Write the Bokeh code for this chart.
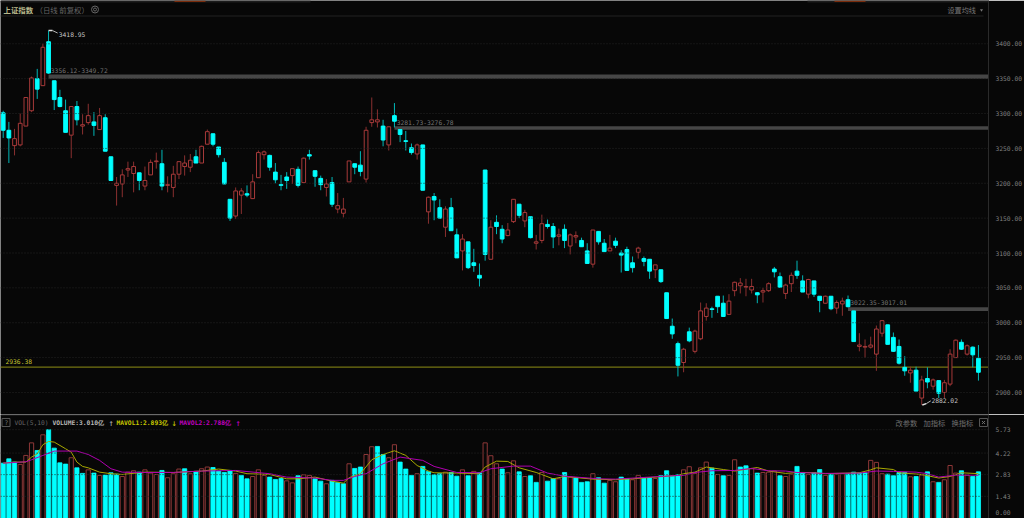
from bokeh.plotting import figure
from bokeh.layouts import column
from bokeh.models import Range1d, LinearAxis, FixedTicker, Span, NumeralTickFormatter
from bokeh.core.properties import value
from bokeh.embed import file_html
from bokeh.resources import INLINE

candle_dir = ("CCRRRRCRCC" "CCRCRRCRCC" "RRRRCRRRCR" "RRRRCRRCCC" "CRRCRRRCCC" "CRCRCCCRCR"
              "RRCCRRRCRC" "CCCRCRCCRC" "CRCCCCRCCR" "RCRCRRCCRC" "RRCCRCCRCC" "CCRCCRCCCC"
              "RCRRRCCCRR" "RRRCRRCCRR" "CCRCCRCRRC" "CRRRRRCCCC" "RCRCRCRRRC" "RCC")
body_high = [3301,3276,3264,3286,3323,3351,3350,3395,3403,3347,
             3323,3304,3310,3310,3284,3297,3288,3297,3294,3238,
             3200,3212,3221,3224,3215,3204,3230,3232,3228,3198,
             3213,3231,3229,3233,3238,3253,3274,3271,3252,3230,
             3177,3189,3189,3185,3202,3244,3245,3240,3216,3198,
             3209,3221,3220,3236,3241,3218,3207,3199,3201,3168,
             3163,3232,3228,3226,3276,3291,3291,3282,3281,3297,
             3277,3261,3251,3255,3255,3180,3181,3165,3163,3165,
             3126,3120,3116,3086,3068,3219,3137,3144,3134,3133,
             3177,3170,3158,3152,3116,3142,3141,3138,3126,3134,
             3126,3125,3118,3103,3133,3131,3114,3107,3117,3100,
             3105,3086,3107,3092,3091,3083,3076,3043,2995,2970,
             2962,2987,2988,3017,3021,3020,3038,3028,3031,3058,
             3057,3052,3052,3043,3046,3056,3077,3066,3054,3068,
             3074,3060,3062,3060,3038,3038,3038,3029,3031,3033,
             3017,2968,2966,2968,2991,3003,2997,2979,2966,2936,
             2932,2932,2918,2920,2918,2917,2914,2955,2975,2972,
             2967,2965,2949]
body_low = [3276,3265,3254,3255,3282,3304,3335,3340,3358,3320,
            3310,3273,3269,3291,3282,3287,3283,3277,3246,3204,
            3197,3199,3219,3214,3204,3196,3212,3231,3196,3197,
            3194,3213,3224,3223,3229,3229,3256,3256,3241,3199,
            3150,3153,3183,3183,3178,3208,3241,3223,3205,3197,
            3204,3211,3197,3201,3239,3210,3198,3194,3170,3163,
            3157,3202,3223,3217,3206,3287,3288,3262,3255,3289,
            3270,3260,3244,3242,3190,3159,3176,3150,3137,3132,
            3093,3103,3079,3082,3064,3098,3091,3138,3120,3125,
            3145,3154,3146,3122,3114,3118,3138,3123,3124,3118,
            3110,3123,3109,3085,3084,3116,3102,3103,3111,3097,
            3075,3079,3101,3088,3074,3076,3059,3006,2984,2939,
            2943,2974,2959,2977,3009,3019,3023,3009,3012,3046,
            3053,3051,3047,3040,3044,3046,3073,3051,3042,3056,
            3068,3044,3041,3041,3032,3028,3020,3021,3027,3023,
            2973,2966,2965,2965,2955,2985,2969,2959,2942,2931,
            2928,2902,2892,2915,2909,2899,2900,2912,2950,2962,
            2955,2954,2929]
wick_high = [3304,3288,3278,3300,3323,3353,3364,3400,3418.95,3347,
             3334,3320,3310,3318,3299,3314,3302,3308,3299,3238,
             3209,3220,3231,3231,3215,3224,3234,3244,3248,3210,
             3225,3231,3240,3242,3248,3254,3277,3271,3252,3236,
             3177,3194,3193,3197,3213,3247,3247,3241,3229,3212,
             3216,3221,3224,3237,3248,3218,3211,3206,3209,3186,
             3179,3232,3228,3246,3281,3323,3306,3291,3281,3315,
             3277,3275,3257,3257,3255,3181,3186,3177,3167,3179,
             3135,3127,3116,3106,3085,3219,3147,3154,3140,3143,
             3177,3170,3162,3152,3126,3155,3148,3143,3135,3141,
             3128,3131,3122,3114,3133,3131,3120,3126,3122,3104,
             3109,3095,3109,3095,3091,3083,3076,3043,3006,2973,
             2964,2993,2990,3029,3028,3023,3038,3039,3041,3059,
             3064,3063,3063,3044,3050,3058,3080,3072,3056,3072,
             3089,3068,3063,3060,3038,3039,3038,3032,3036,3039,
             3017,2985,2976,2980,2996,3004,2997,2986,2976,2952,
             2937,2937,2924,2936,2920,2917,2918,2962,2976,2976,
             2969,2966,2968]
wick_low = [3265,3229,3240,3253,3282,3302,3321,3340,3357,3305,
            3309,3273,3236,3283,3270,3284,3268,3277,3246,3204,
            3168,3180,3209,3187,3190,3190,3212,3221,3190,3187,
            3180,3206,3211,3216,3229,3229,3256,3253,3237,3199,
            3146,3149,3156,3180,3178,3208,3234,3218,3200,3190,
            3192,3199,3194,3201,3234,3195,3190,3181,3166,3157,
            3151,3202,3213,3210,3201,3281,3280,3253,3247,3280,
            3259,3247,3241,3234,3190,3142,3147,3149,3123,3132,
            3093,3075,3077,3073,3052,3089,3091,3127,3114,3124,
            3143,3150,3137,3121,3105,3114,3135,3107,3111,3107,
            3098,3114,3109,3085,3079,3112,3102,3103,3107,3072,
            3075,3072,3092,3081,3063,3064,3057,3006,2977,2923,
            2929,2972,2956,2975,3003,3007,3014,3009,3011,3038,
            3042,3038,3042,3028,3029,3044,3065,3051,3034,3044,
            3063,3044,3035,3037,3015,3027,3018,3013,3010,3022,
            2973,2959,2950,2963,2931,2980,2969,2958,2940,2924,
            2914,2902,2882.02,2906,2904,2892,2892,2909,2950,2961,
            2953,2936,2917]

vol_dir = ("CCCRRRCRCC" "CCRCCRCRCC" "CRRRCRRRCR" "RRCRCRRCCC" "CRCCRRRCCC" "RRCRRCCRCC"
           "CRCCRRCCRR" "CCCRCCCCRC" "CRCRCRRRCR" "RCRCCRCCRC" "RCCCRCCRRC" "CRRCCRCCCC"
           "RRRRRCRCRR" "CCRCRRRCRR" "CCRCCRCRRC" "CCCRRRCCCC" "RCRCRCRRRC" "RCC")
volume = [3.57,3.85,3.64,3.49,4.07,4.88,4.39,5.40,5.73,4.54,
          3.59,3.51,3.92,3.27,2.91,3.14,2.93,2.78,2.80,2.95,
          2.86,2.71,2.99,3.08,2.99,3.14,2.93,2.84,3.10,2.63,
          2.89,3.19,3.21,2.89,3.04,3.21,3.32,3.29,3.06,2.97,
          3.10,2.91,2.78,2.56,2.71,3.14,2.78,2.67,2.52,2.58,
          2.43,2.30,2.76,2.82,2.78,2.56,2.41,2.24,2.46,2.33,
          2.24,3.53,3.23,3.32,4.13,4.63,4.65,4.13,3.92,4.76,
          3.64,3.19,2.78,2.89,3.36,3.04,2.82,2.89,2.99,2.97,
          2.73,3.14,2.76,3.04,2.95,4.88,4.05,3.53,3.19,2.95,
          3.72,3.01,2.71,2.76,2.33,2.97,2.41,2.58,2.56,2.97,
          2.67,2.61,2.33,2.37,2.89,2.63,2.28,2.46,2.37,2.67,
          2.58,2.50,2.78,2.61,2.63,2.58,2.76,3.08,2.73,2.82,
          3.14,3.34,2.91,3.27,3.64,3.25,2.84,2.76,2.78,3.79,
          3.32,3.40,3.21,2.93,2.97,2.99,3.06,2.76,2.71,2.86,
          3.36,2.97,2.84,2.95,3.16,2.78,2.86,2.86,2.89,2.89,
          2.99,2.93,2.95,3.75,3.62,2.89,2.86,2.76,2.97,2.97,
          2.69,2.71,2.80,3.01,2.37,2.33,2.50,3.42,2.93,3.08,
          2.80,2.71,3.01]

ma5_idx = [0,2,4,5,6,7,8,9,11,12,13,14,15,17,19,21,25,30,35,38,41,43,47,50,52,55,58,
           60,61,63,65,67,69,71,73,75,76,80,84,85,87,89,91,94,97,99,104,108,111,119,
           120,122,124,127,129,133,135,138,140,143,145,151,153,154,157,158,162,165,167,169,172]
ma5_val = [3.57,3.64,3.64,3.96,4.17,4.76,4.97,4.93,4.50,4.28,3.64,3.36,3.27,2.99,2.89,2.84,2.99,2.97,3.06,3.19,3.06,2.89,2.84,2.56,2.56,2.67,2.41,
           2.28,2.63,2.89,3.79,4.13,4.37,4.07,3.42,3.06,2.95,2.93,2.89,3.32,3.70,3.68,3.27,2.97,2.56,2.71,2.54,2.50,2.56,2.78,
           2.89,2.99,3.32,3.16,3.06,3.29,3.06,2.91,2.97,2.95,2.89,2.95,3.14,3.27,3.16,2.95,2.84,2.61,2.71,2.95,2.893]
ma10_idx = [0,4,5,7,9,13,15,17,19,21,25,30,35,41,47,50,55,58,
            60,62,64,67,70,74,76,80,84,86,90,93,96,99,105,108,119,
            120,122,125,129,132,135,138,140,145,151,154,157,161,163,165,168,172]
ma10_val = [3.57,3.66,3.79,4.07,4.35,4.35,4.13,3.75,3.21,2.99,2.97,2.97,3.06,3.10,2.89,2.67,2.61,2.46,
            2.46,2.71,2.89,3.53,3.96,3.75,3.36,2.97,2.95,3.21,3.38,3.38,2.93,2.73,2.56,2.54,2.78,
            2.78,2.97,3.08,3.10,3.23,3.08,3.06,2.97,2.91,2.93,3.06,3.04,2.99,2.89,2.67,2.80,2.788]

price_ticks = [2900,2950,3000,3050,3100,3150,3200,3250,3300,3350,3400]
vol_ticks = [1.43,2.83,4.22,5.73]
zones = [("3356.12-3349.72",3356.12,3349.72,8,70),("3281.73-3276.78",3281.73,3276.78,69,122),("3022.35-3017.01",3022.35,3017.01,149,302)]
support_level = 2936.38
peak_value, trough_value = 3418.95, 2882.02

BG = "#070707"
RED = "#a83a3a"
CYAN = "#00ffff"
GRID = "#262626"
MONO = value("DejaVu Sans Mono")
CJK = value("Noto Sans CJK SC")
MONO_SIZE = "6.3px"

def ix(px):
    return (px - 2.7) / 5.67
def py(y):
    return 3400 - (y - 43.3) * 1.434
def vy(y):
    return (518 - y) / 15.5

n = len(body_high)
xs = list(range(n))

def base(h, yr):
    f = figure(frame_width=988, frame_height=h, x_range=Range1d(ix(0), ix(988)), y_range=yr,
               output_backend="svg", toolbar_location=None, background_fill_color=BG,
               border_fill_color=BG, min_border_left=0, min_border_top=0, min_border_bottom=0,
               min_border_right=36, outline_line_color=None, x_axis_location=None, y_axis_location=None)
    f.xgrid.visible = False
    f.ygrid.visible = False
    return f

def right_axis(f, ticks, fmt, overrides=None):
    ax = LinearAxis(ticker=FixedTicker(ticks=ticks), major_tick_line_color=None, minor_tick_line_color=None,
                    axis_line_color="#2a2a2a", major_label_text_color="#808080",
                    major_label_text_font="DejaVu Sans Mono", major_label_text_font_size=MONO_SIZE,
                    major_label_standoff=1, formatter=NumeralTickFormatter(format=fmt))
    if overrides:
        ax.major_label_overrides = overrides
    f.add_layout(ax, "right")

def label(f, x, y, txt, color, font=MONO, size=MONO_SIZE, style="normal"):
    f.text([x], [y], text=[txt], text_color=color, text_font=font, text_font_size=size,
           text_baseline="middle", text_align="left", text_font_style=style)

# price pane
p1 = base(414, Range1d(py(414), py(0)))
right_axis(p1, price_ticks, "0.00")
for t in price_ticks:
    p1.add_layout(Span(location=t, dimension="width", line_color=GRID, line_dash="1 2", line_width=1))
p1.line([ix(0), ix(983)], [py(15.5), py(15.5)], line_color="#222222", line_width=1)

for txt, hi, lo, start, ty in zones:
    p1.quad(left=[start], right=[ix(988)], top=[hi], bottom=[lo], fill_color="#464646", line_color=None)
    label(p1, start + 0.4, py(ty), txt, "#757575")
p1.line([ix(0), ix(988)], [support_level, support_level], line_color="#757512", line_width=1.4)
label(p1, ix(5), py(360.5), f"{support_level:.2f}", "#c8c832")

up = [d == "R" for d in candle_dir]
for flag, col in ((True, RED), (False, CYAN)):
    sel = [i for i in xs if up[i] == flag]
    p1.segment([xs[i] for i in sel], [wick_high[i] for i in sel], [xs[i] for i in sel], [wick_low[i] for i in sel],
               line_color="#8a3030" if flag else "#00b8b8", line_width=1)
    p1.vbar(x=[xs[i] for i in sel], width=0.66, top=[body_high[i] for i in sel], bottom=[body_low[i] for i in sel],
            fill_color=BG if flag else col, line_color=col, line_width=1)

p1.segment([8.0], [peak_value], [8.7], [peak_value], line_color="#e0e0e0", line_width=1.5)
p1.segment([8.7], [peak_value], [9.6], [peak_value - 3.5], line_color="#b8b8b8", line_width=1)
label(p1, 9.8, py(34), f"{peak_value:.2f}", "#c8c8c8")
p1.segment([162.1], [trough_value], [162.8], [trough_value + 2], line_color="#e0e0e0", line_width=1.5)
p1.segment([162.8], [trough_value + 2], [163.6], [trough_value + 6], line_color="#b8b8b8", line_width=1)
label(p1, 163.7, py(400), f"{trough_value:.2f}", "#c8c8c8")

label(p1, ix(3), py(9), "上证指数", "#b9b98c", CJK, "7.4px", "bold")
label(p1, ix(35), py(9), "（日线 前复权）", "#666666", CJK, "7.4px")
p1.scatter([ix(94.5)], [py(9)], size=7, marker="circle", fill_color=None, line_color="#666666", line_width=1)
p1.scatter([ix(94.5)], [py(9)], size=3, marker="circle", fill_color=None, line_color="#666666", line_width=1)
label(p1, ix(947), py(9), "设置均线", "#777777", CJK, "7.1px")
p1.scatter([ix(981)], [py(9.5)], size=3, marker="inverted_triangle", fill_color="#777777", line_color=None)
for a, b in ((0, 310), (807, 988)):
    p1.quad(left=[ix(a)], right=[ix(b)], top=[py(0)], bottom=[py(2)], fill_color="#1c1c1c", line_color=None)
for a, b in ((174, 205), (834, 865)):
    p1.quad(left=[ix(a)], right=[ix(b)], top=[py(0)], bottom=[py(1.5)], fill_color="#7a2c0c", line_color=None)

# volume pane
p2 = base(104, Range1d(0, vy(414)))
right_axis(p2, [0.37] + vol_ticks, "0.00", {0.37: "0.00"})
for t in vol_ticks:
    p2.add_layout(Span(location=t, dimension="width", line_color=GRID, line_dash="1 2", line_width=1))
p2.add_layout(Span(location=vy(414.5), dimension="width", line_color="#282828", line_width=1))

vup = [d == "R" for d in vol_dir]
for flag, col in ((True, "#8e3838"), (False, CYAN)):
    sel = [i for i in xs if vup[i] == flag]
    p2.vbar(x=[xs[i] for i in sel], width=0.74, top=[volume[i] for i in sel], bottom=0,
            fill_color=BG if flag else col, line_color=col, line_width=0.8 if not flag else 1)
p2.line(ma5_idx, ma5_val, line_color="#a8a800", line_width=1)
p2.line(ma10_idx, ma10_val, line_color="#b000b0", line_width=1)

p2.scatter([ix(5.5)], [vy(422)], size=8, marker="square", fill_color=None, line_color="#555555", line_width=1)
label(p2, ix(4), vy(422), "?", "#777777")
label(p2, ix(14), vy(422), "VOL(5,10)", "#666666")
label(p2, ix(52), vy(422), "VOLUME:3.010亿", "#b8b8b8", MONO, MONO_SIZE, "bold")
label(p2, ix(108), vy(422), "↑", "#b0b0b0", MONO, "9px")
label(p2, ix(116), vy(422), "MAVOL1:2.893亿", "#c8c800", MONO, MONO_SIZE, "bold")
label(p2, ix(171), vy(422), "↓", "#c8c800", MONO, "9px")
label(p2, ix(179), vy(422), "MAVOL2:2.788亿", "#c000c0", MONO, MONO_SIZE, "bold")
label(p2, ix(235), vy(422), "↑", "#c000c0", MONO, "9px")
label(p2, ix(895), vy(422), "改参数", "#707070", CJK, "7.3px")
label(p2, ix(923), vy(422), "加指标", "#707070", CJK, "7.3px")
label(p2, ix(951), vy(422), "换指标", "#707070", CJK, "7.3px")
p2.scatter([ix(983)], [vy(422)], size=8, marker="square", fill_color=None, line_color="#555555", line_width=1)
p2.scatter([ix(983)], [vy(422)], size=4, marker="x", fill_color=None, line_color="#777777", line_width=1)

layout = column(p1, p2, spacing=0)
open("out.html", "w").write(file_html(layout, INLINE))
